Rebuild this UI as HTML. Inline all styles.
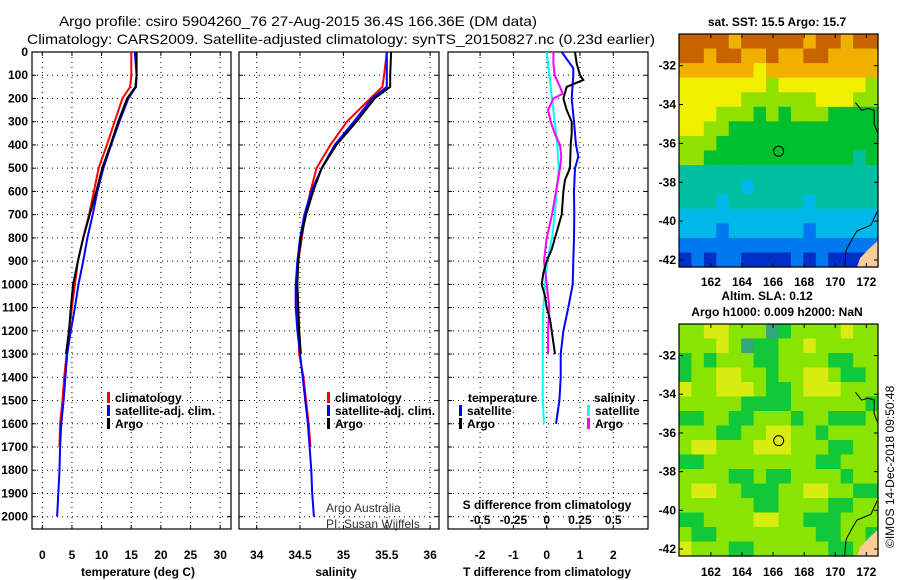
<!DOCTYPE html>
<html><head><meta charset="utf-8"><style>
html,body{margin:0;padding:0;background:#fff;width:900px;height:580px;overflow:hidden}
svg{display:block;font-family:"Liberation Sans",sans-serif}
.b{font-weight:bold;font-size:12px}
.n{font-weight:normal;font-size:12px}
</style></head><body>
<svg id="c" width="900" height="580" viewBox="0 0 900 580">
<text x="298" y="26" text-anchor="middle" font-size="14" textLength="478" lengthAdjust="spacingAndGlyphs">Argo profile: csiro 5904260_76 27-Aug-2015 36.4S 166.36E (DM data)</text>
<text x="341" y="44" text-anchor="middle" font-size="14" textLength="628" lengthAdjust="spacingAndGlyphs">Climatology: CARS2009. Satellite-adjusted climatology: synTS_20150827.nc (0.23d earlier)</text>
</svg>
<script>
// ---- data ----
const depthTicks=[0,100,200,300,400,500,600,700,800,900,1000,1100,1200,1300,1400,1500,1600,1700,1800,1900,2000];
const tTicks=[0,5,10,15,20,25,30];
const sTicks=[34,34.5,35,35.5,36];
const dTTicks=[-2,-1,0,1,2];
const dSTicks=[-0.5,-0.25,0,0.25,0.5];
const dSTickLabels=["-0.5","-0.25","0","0.25","0.5"];
const climDepth=[0,100,150,200,300,400,500,600,700,800,900,1000,1100,1200,1300,1400,1500,1600,1700];
const climTemp=[15.0,15.0,14.8,13.5,12.2,10.9,9.5,8.7,7.9,6.9,6.0,5.5,5.0,4.5,4.1,3.7,3.4,3.0,2.9];
const climSal=[35.5,35.47,35.45,35.31,35.04,34.85,34.69,34.62,34.56,34.52,34.48,34.46,34.47,34.48,34.49,34.54,34.57,34.6,34.62];
const argoDepth=[0,100,150,200,300,400,500,600,700,800,900,1000,1100,1200,1300];
const argoTemp=[15.9,15.9,15.7,14.3,12.8,11.5,10.1,9.1,8.0,6.9,6.0,5.2,4.8,4.5,4.0];
const argoSal=[35.55,35.54,35.54,35.36,35.15,34.92,34.75,34.65,34.57,34.51,34.48,34.47,34.48,34.49,34.51];
const satDepth=[0,100,150,200,300,400,500,600,700,800,900,1000,1100,1200,1300,1400,1500,1600,1700,1800,1900,2000];
const satTemp=[15.6,15.9,15.8,14.5,13.0,11.6,10.3,9.3,8.5,7.6,6.9,6.1,5.5,4.8,4.2,3.9,3.6,3.2,3.0,2.9,2.7,2.5];
const satSal=[35.5,35.5,35.5,35.33,35.12,34.9,34.75,34.63,34.55,34.5,34.47,34.45,34.45,34.47,34.5,34.53,34.56,34.59,34.61,34.63,34.64,34.66];
const dSatTDepth=[0,30,70,100,200,300,400,450,500,600,700,800,900,1000,1100,1200,1300,1400,1500,1600];
const dSatT=[0.45,0.6,0.8,0.8,0.75,0.82,0.88,0.95,0.85,0.82,0.83,0.82,0.8,0.78,0.65,0.5,0.42,0.42,0.38,0.28];
const dArgoTDepth=[0,50,100,120,150,200,250,300,350,400,500,550,600,700,800,850,900,950,1000,1050,1100,1150,1200,1300];
const dArgoT=[0.85,0.9,1.0,1.1,0.6,0.5,0.6,0.75,0.75,0.72,0.7,0.55,0.5,0.45,0.25,0.15,0.0,-0.1,-0.15,-0.05,0.0,0.1,0.15,0.25];
const dSatSDepth=[0,100,200,300,400,500,600,700,800,900,1000,1100,1200,1300,1400,1500,1600];
const dSatS=[0,0.02,0.04,0.06,0.08,0.09,0.075,0.06,0.04,0.005,-0.012,-0.025,-0.03,-0.03,-0.03,-0.03,-0.02];
const dArgoSDepth=[0,50,100,150,180,200,250,300,350,400,450,500,600,700,800,900,1000,1100,1200,1300];
const dArgoS=[0.05,0.05,0.06,0.1,0.12,0.05,0.01,0.03,0.06,0.1,0.11,0.1,0.07,0.04,0.0,-0.02,0.0,0.02,0.01,0.01];
const lonTicks=[162,164,166,168,170,172];
const latTicks=[-32,-34,-36,-38,-40,-42];
const argoLon=166.36, argoLat=-36.4;
const sstGrid=["9999899999899899","9989988988998888","8888887888888888","7777777677777776","7777766666677766","7776665656665555","7766555555555555","6665555555555555","6655555555555545","4444444444444444","4444434444444444","4443444444344444","3333333333333333","3332333333233333","2222222222222222","1212211112121111"];
const slaGrid=["6677666456666766","6667645566766666","5656665566665566","5667766566776556","7667776556777666","6666655556666665","5566556665665556","6665566776656666","6776667776665566","5566666666655666","6666556556666566","6776655566776655","6666665566665566","5566667766555666","6556666666655665","7666556666665566"];
const sstColors={1:"#0030c8",2:"#0078f0",3:"#00b8e8",4:"#00c0a0",5:"#00c030",6:"#90e000",7:"#f0f000",8:"#f0b000",9:"#c86400"};
const slaColors={4:"#30a878",5:"#10c838",6:"#88e400",7:"#d8ec10"};

// ---- helpers ----
const svg=document.getElementById('c');
const NS="http://www.w3.org/2000/svg";
function mk(tag,attrs,parent){const e=document.createElementNS(NS,tag);for(const k in attrs)e.setAttribute(k,attrs[k]);(parent||svg).appendChild(e);return e;}
const Y0=52,Y1=529;
const yD=d=>Y0+(d/2000)*(516.7-Y0);
const P1={l:32,r:231}, P2={l:239,r:439}, P3={l:448,r:648};
const xT=t=>42.3+t*5.93;
const xS=s=>256.7+(s-34)*86.7;
const xDT=t=>546.7+t*33.3;
const xDS=s=>546.7+s*133;

function frame(P,name){
  const g=mk('g',{});
  
  
  depthTicks.forEach(d=>{if(d>0)mk('line',{x1:P.l,x2:P.r,y1:yD(d),y2:yD(d),stroke:'#000','stroke-width':1,'stroke-dasharray':'1,4'},g);
    mk('line',{x1:P.l,x2:P.l+4,y1:yD(d),y2:yD(d),stroke:'#000'},g);mk('line',{x1:P.r-4,x2:P.r,y1:yD(d),y2:yD(d),stroke:'#000'},g);});
  mk('rect',{x:P.l,y:Y0,width:P.r-P.l,height:Y1-Y0,fill:'none',stroke:'#000','stroke-width':1.2},g);
  return g;
}
function vgrid(g,ticks,fx,P,labels,ly){
  ticks.forEach((t,i)=>{const x=fx(t);
    mk('line',{x1:x,x2:x,y1:Y0,y2:Y1,stroke:'#000','stroke-dasharray':'1,4'},g);
    mk('line',{x1:x,x2:x,y1:Y1-4,y2:Y1,stroke:'#000'},g);mk('line',{x1:x,x2:x,y1:Y0,y2:Y0+4,stroke:'#000'},g);
    if(labels){const tx=mk('text',{x:x,y:ly,'text-anchor':'middle',class:'b'},g);tx.textContent=labels[i];}});
}
function line(depths,vals,fx,color,name,w){
  const pts=depths.map((d,i)=>fx(vals[i]).toFixed(1)+','+yD(d).toFixed(1)).join(' ');
  const p=mk('polyline',{points:pts,fill:'none',stroke:color,'stroke-width':w||2});
  
  
}
function txt(x,y,s,cls,anchor,extra){const t=mk('text',Object.assign({x:x,y:y,class:cls||'b','text-anchor':anchor||'start'},extra||{}));t.textContent=s;return t;}

// depth labels
depthTicks.forEach(d=>{const t=txt(28,yD(d)+4,String(d),'b','end');

});

// panel 1
const g1=frame(P1,'temperature-panel');
vgrid(g1,tTicks,xT,P1,tTicks.map(String),559);
line(climDepth,climTemp,xT,'#f00','temp-climatology-line');
line(satDepth,satTemp,xT,'#00f','temp-satellite-line');
line(argoDepth,argoTemp,xT,'#000','temp-argo-line');
txt(138,576,'temperature (deg C)','b','middle');
// panel 2
const g2=frame(P2,'salinity-panel');
vgrid(g2,sTicks,xS,P2,sTicks.map(String),559);
line(climDepth,climSal,xS,'#f00','sal-climatology-line');
line(satDepth,satSal,xS,'#00f','sal-satellite-line');
line(argoDepth,argoSal,xS,'#000','sal-argo-line');
txt(336,576,'salinity','b','middle');
txt(326,512,'Argo Australia','n','start',{fill:'#333'});
txt(326,528,'PI: Susan Wijffels','n','start',{fill:'#333'});
// panel 3
const g3=frame(P3,'difference-panel');
vgrid(g3,dTTicks,xDT,P3,dTTicks.map(String),559);
dSTicks.forEach((s,i)=>txt(xDS(s),524,dSTickLabels[i],'b','middle'));
txt(547,509,'S difference from climatology','b','middle');
txt(547,576,'T difference from climatology','b','middle');
line(dSatSDepth,dSatS,xDS,'#0ff','dsal-satellite-line');
line(dArgoSDepth,dArgoS,xDS,'#f0f','dsal-argo-line');
line(dSatTDepth,dSatT,xDT,'#00f','dtemp-satellite-line');
line(dArgoTDepth,dArgoT,xDT,'#000','dtemp-argo-line');

// legends
function leg(x,y,color,label){
  mk('rect',{x:x,y:y-10,width:3,height:11,fill:color});
  const t=txt(x+8,y,label);
  
  
}
[[107,402,'#f00','climatology'],[107,415,'#00f','satellite-adj. clim.'],[107,428,'#000','Argo'],
 [327,402,'#f00','climatology'],[327,415,'#00f','satellite-adj. clim.'],[327,428,'#000','Argo'],
 [459,415,'#00f','satellite'],[459,428,'#000','Argo'],[587,415,'#0ff','satellite'],[587,428,'#f0f','Argo']].forEach(a=>leg(...a));
txt(468,402,'temperature');txt(594,402,'salinity');

// maps
const LON0=159.95,LON1=172.75,LAT0=-30.37,LAT1=-42.36;
function mapPanel(top,bot,grid,colors,name,lonLabY){
  const g=mk('g',{});
  
  
  const L=679,R=878;
  const xL=lon=>L+(lon-LON0)/(LON1-LON0)*(R-L);
  const yL=lat=>top+(lat-LAT0)/(LAT1-LAT0)*(bot-top);
  const nr=grid.length,nc=grid[0].length,cw=(R-L)/nc,ch=(bot-top)/nr;
  grid.forEach((row,r)=>{for(let c=0;c<nc;c++){
    const cell=mk('rect',{x:L+c*cw,y:top+r*ch,width:cw+0.6,height:ch+0.6,fill:colors[row[c]]},g);
    
    }});
  mk('path',{d:`M${xL(171.4)},${bot} L${xL(171.6)},${yL(-41.9)} L${xL(172.2)},${yL(-41.4)} L${xL(172.75)},${yL(-41)} L${R},${bot} Z`,fill:'#fccc98'},g);
  mk('polyline',{points:`${xL(170.6)},${bot} ${xL(170.7)},${yL(-41.5)} ${xL(171.1)},${yL(-40.9)} ${xL(171.4)},${yL(-40.5)} ${xL(172.3)},${yL(-40.2)} ${xL(172.7)},${yL(-39.5)}`,fill:'none',stroke:'#000'},g);
  mk('polyline',{points:`${xL(171.3)},${yL(-33.9)} ${xL(171.7)},${yL(-34.3)} ${xL(172.1)},${yL(-34.2)} ${xL(172.5)},${yL(-34.3)} ${xL(172.5)},${yL(-35)} ${xL(172.75)},${yL(-35.5)}`,fill:'none',stroke:'#000'},g);
  mk('circle',{cx:xL(argoLon),cy:yL(argoLat),r:5,fill:'none',stroke:'#000','stroke-width':1},g);
  mk('rect',{x:L,y:top,width:R-L,height:bot-top,fill:'none',stroke:'#000','stroke-width':1.2},g);
  lonTicks.forEach(lo=>{const x=xL(lo);mk('line',{x1:x,x2:x,y1:bot-4,y2:bot,stroke:'#000'},g);mk('line',{x1:x,x2:x,y1:top,y2:top+4,stroke:'#000'},g);
    txt(x,lonLabY,String(lo),'b','middle');});
  latTicks.forEach(la=>{const y=yL(la);mk('line',{x1:R-4,x2:R,y1:y,y2:y,stroke:'#000'},g);mk('line',{x1:L,x2:L+4,y1:y,y2:y,stroke:'#000'},g);
    txt(L-3,y+4,String(la),'b','end');});
}
mapPanel(34,267,sstGrid,sstColors,'sst-map',286);
mapPanel(324,556,slaGrid,slaColors,'sla-map',576);
txt(777,26,'sat. SST: 15.5 Argo: 15.7','b','middle');
txt(767,300,'Altim. SLA: 0.12','b','middle');
txt(777,316,'Argo h1000: 0.009 h2000: NaN','b','middle');
const cp=txt(0,0,'©IMOS 14-Dec-2018 09:50:48','n','start',{transform:'translate(894,548) rotate(-90)'});


</script>
</body></html>
